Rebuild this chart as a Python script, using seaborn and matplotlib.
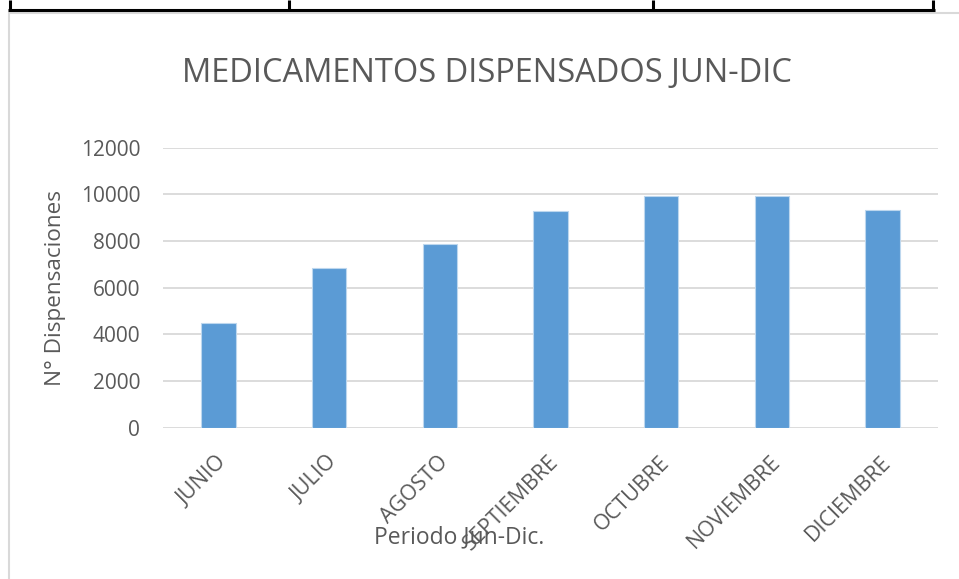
import matplotlib
matplotlib.use("Agg")
import matplotlib.pyplot as plt
import matplotlib.transforms as mtransforms
from matplotlib.lines import Line2D
import seaborn as sns
import pandas as pd

# Monthly dispensing counts, June to December
meses = ["JUNIO", "JULIO", "AGOSTO", "SEPTIEMBRE", "OCTUBRE", "NOVIEMBRE", "DICIEMBRE"]
dispensaciones = [4475, 6855, 7885, 9270, 9915, 9940, 9315]
y_ticks = [0, 2000, 4000, 6000, 8000, 10000, 12000]

titulo = "MEDICAMENTOS DISPENSADOS JUN-DIC"
etiqueta_x = "Periodo Jun-Dic."
etiqueta_y = "N° Dispensaciones"

sns.set_theme(style="white")
plt.rcParams["font.family"] = ["Open Sans", "DejaVu Sans"]

TEXT = "#595959"
GRID = "#D9D9D9"
BAR = "#5B9BD5"

W, H = 959, 579
fig = plt.figure(figsize=(W / 100, H / 100), dpi=100)
ax = fig.add_axes([163 / W, 1 - 427.7 / H, 775 / W, 280.1 / H])

df = pd.DataFrame({"mes": meses, "valor": dispensaciones})
sns.barplot(data=df, x="mes", y="valor", color=BAR, saturation=1, width=0.31,
            edgecolor="#BDD7EE", linewidth=0.8, ax=ax, zorder=3)

ax.set_ylim(0, 12000)
ax.set_yticks(y_ticks)
ax.set_yticklabels([str(v) for v in y_ticks])
ax.set_xlim(-0.5, len(meses) - 0.5)
ax.grid(axis="y", color=GRID, linewidth=1.3, zorder=0)
ax.grid(axis="x", visible=False)
for s in ax.spines.values():
    s.set_visible(False)
ax.tick_params(axis="both", length=0, colors=TEXT)
ax.tick_params(axis="y", labelsize=15, pad=16.5)
ax.tick_params(axis="x", labelsize=15.5, pad=0)

# Rotated month labels, their upper-right end hanging just below each bar
off = mtransforms.ScaledTranslation(-2 / 100, -24 / 100, fig.dpi_scale_trans)
for lbl in ax.get_xticklabels():
    lbl.set_rotation(45)
    lbl.set_rotation_mode("anchor")
    lbl.set_ha("right")
    lbl.set_va("top")
    lbl.set_transform(lbl.get_transform() + off)

ax.set_xlabel(etiqueta_x, fontsize=16.5, color=TEXT)
ax.xaxis.set_label_coords((459 - 163) / 775, -(537 - 427.7) / 280.1)
ax.xaxis.label.set_va("center")
ax.set_ylabel(etiqueta_y, fontsize=16.2, color=TEXT)
ax.yaxis.set_label_coords((56 - 163) / 775, (427.7 - 287.5) / 280.1)
ax.yaxis.label.set_va("center")

fig.text(486.5 / W, 1 - 74 / H, titulo, ha="center", va="center",
         fontsize=23.5, color=TEXT)

# Page decorations: table rule above and chart frame
def px_line(x0, y0, x1, y1, color, lw):
    fig.add_artist(Line2D([x0 / W, x1 / W], [1 - y0 / H, 1 - y1 / H],
                          transform=fig.transFigure, color=color, linewidth=lw,
                          solid_capstyle="butt"))

px_line(8, 12.5, W, 12.5, GRID, 1.5)
px_line(9, 12, 9, H, GRID, 1.5)
px_line(8, 9.5, 934.5, 9.5, "black", 2.2)
for xv in [9.5, 289, 652.5, 933]:
    px_line(xv, 0, xv, 10.5, "black", 2.2)

fig.savefig("out.png", dpi=100, facecolor="white")
